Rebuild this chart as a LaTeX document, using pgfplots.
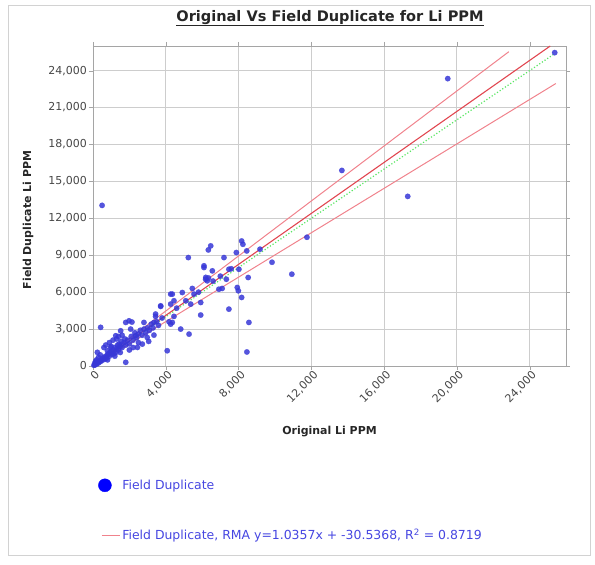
\documentclass[border=0pt]{standalone}
\usepackage{fontspec}
\setmainfont{DejaVu Sans}
\usepackage{pgfplots}
\pgfplotsset{compat=1.18}
\definecolor{ptblue}{RGB}{55,55,215}
\definecolor{legblue}{RGB}{70,70,225}
\definecolor{rmared}{RGB}{225,70,80}
\definecolor{bandred}{RGB}{240,130,140}
\definecolor{onegreen}{RGB}{90,230,100}
\definecolor{gridgray}{RGB}{205,205,205}
\definecolor{framegray}{RGB}{165,165,165}
\definecolor{ticktext}{RGB}{70,70,70}
\begin{document}
\begin{tikzpicture}
\begin{axis}[
  scale only axis, width=473bp, height=320bp,
  xmin=0, xmax=26000, ymin=0, ymax=26000,
  xtick={0,4000,...,24000}, ytick={0,3000,...,24000},
  grid=major, grid style={gridgray, line width=0.8pt},
  axis line style={framegray, line width=0.9pt},
  tick align=outside, major tick length=4bp,
  tick style={framegray},
  /pgf/number format/assume math mode=true,
  /pgf/number format/.cd, 1000 sep={,}, /pgfplots/.cd,
  scaled ticks=false,
  tick label style={font=\fontsize{11}{13}\selectfont, text=ticktext},
  xticklabel style={rotate=45, anchor=north east, inner sep=1pt, xshift=2bp},
  yticklabel style={inner sep=2pt},
  title={\underline{\textbf{Original Vs Field Duplicate for Li PPM}}},
  title style={at={(axis description cs:0.501,1.059)}, anchor=base, font=\fontsize{14.6}{16}\selectfont, text=black!85},
  xlabel={\textbf{Original Li PPM}},
  xlabel style={at={(axis description cs:0.5,-0.206)}, anchor=center, font=\fontsize{11}{13}\selectfont, text=black!85},
  ylabel={\textbf{Field Duplicate Li PPM}},
  ylabel style={at={(axis description cs:-0.137,0.456)}, anchor=center, rotate=0, font=\fontsize{11}{13}\selectfont, text=black!85},
  legend style={draw=none, fill=none, at={(axis description cs:0.0106,-0.35)}, anchor=north west,
    font=\fontsize{12.5}{14}\selectfont, text=legblue, row sep=34bp, inner sep=0pt},
  legend cell align=left,
  clip=true,
]
\addplot[only marks, mark=*, mark size=2.7bp, mark options={draw=ptblue, fill=ptblue, fill opacity=0.85, draw opacity=0.6},
  legend image code/.code={\path[draw=none, fill=none] (0,0) -- (18bp,0); \fill[blue] (3bp,0) circle (6.5bp);}] coordinates {
(500,13050) (25380,25460) (19500,23350) (13680,15890) (17300,13780) (11760,10460)
(10930,7460) (9840,8430) (9180,9490) (8460,1140) (4080,1240) (420,3140)
(6470,9760) (6340,9430) (5240,8810) (8170,10160) (8240,9890) (7880,9220) (8450,9350)
(7200,8810) (6100,8000) (6560,7730) (6190,7050) (6280,6920) (6350,7150) (6200,7200)
(7470,7860) (8020,7860) (7330,7050) (8530,7190) (6920,6240) (7100,6300) (7930,6380)
(7990,6110) (8170,5570) (7470,4620) (8570,3540) (5920,4140) (5920,5160) (5370,5030)
(4910,5970) (4360,5840) (5460,6300) (4270,5030) (3720,4840) (4450,4030) (4180,3590)
(4270,3400) (3440,4030) (3350,3540) (4820,3000) (5280,2590) (3350,2510) (6100,8140)
(5550,5840) (4450,5300) (4270,5840) (4360,3540) (3440,4220) (3720,4890) (2800,3540)
(2980,2320) (3060,2000) (2440,1510) (2710,1780) (1800,300) (2340,2460) (1800,3540)
(1980,3670) (2140,3570) (2070,3000) (1520,2860) (1250,2460) (1430,1780) (970,1510)
(790,1240) (240,1110)
(4600,4700) (5100,5300) (5800,6000) (6600,6900) (7000,7300) (7600,7900)
(50,60) (100,80) (150,200) (200,150) (250,300) (300,250) (350,400) (400,350) (450,500)
(500,450) (550,600) (600,700) (650,550) (700,800) (750,650) (800,900) (850,1000)
(900,800) (950,1100) (1000,1200) (1050,950) (1100,1300) (1150,1000) (1200,1500)
(1250,1100) (1300,1400) (1350,1700) (1400,1300) (1500,1600) (1550,2000) (1600,1500)
(1700,1900) (1750,2200) (1800,1700) (1900,2100) (2000,1800) (2100,2400) (2200,2100)
(2300,2700) (2400,2300) (2500,2600) (2600,2900) (2700,2500) (2800,3000) (2900,2700)
(3000,3100) (3100,2900) (3200,3400) (3300,3100) (3500,3600) (3600,3300) (3800,3900)
(600,1500) (700,1700) (900,1900) (1100,2100) (1000,1600) (1300,2200) (1400,2400)
(1600,2500) (1200,800) (1500,1100) (2000,1300) (300,700) (200,500) (150,400) (100,250)
(400,900) (2500,1900) (2200,1500) (800,500)
};
\addlegendentry{Field Duplicate}
\addplot[bandred, line width=1pt, forget plot] coordinates {(0,0) (22860,25540)};
\addplot[bandred, line width=1pt, forget plot] coordinates {(0,0) (25440,22950)};
\addplot[onegreen, line width=1.2pt, dotted, forget plot] coordinates {(0,0) (25300,25300)};
\addplot[rmared, line width=1.1pt, legend image code/.code={\draw[bandred, line width=0.8pt] (0,0) -- (18bp,0);}] coordinates {(0,-30.5368) (25133,26000)};
\addlegendentry{Field Duplicate, RMA y=1.0357x + -30.5368, R\textsuperscript{2} = 0.8719}
\end{axis}
\draw[gray!35, line width=0.8pt] (-85bp,-189bp) rectangle (497bp,361bp);
\pgfresetboundingbox
\path[use as bounding box] (-93bp,-199bp) rectangle (502bp,366bp);
\end{tikzpicture}
\end{document}
